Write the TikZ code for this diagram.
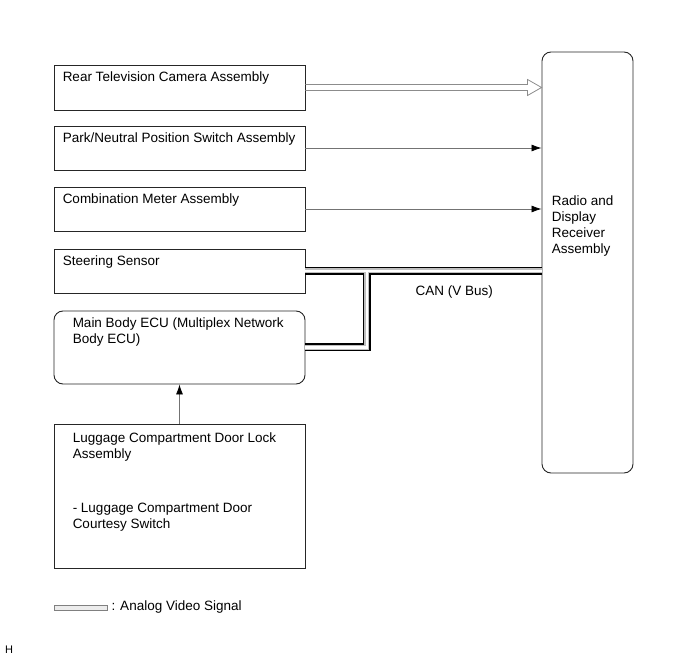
\documentclass[tikz,border=0pt]{standalone}
\usepackage{fontspec}
\setmainfont{Liberation Sans}
\usetikzlibrary{calc,positioning,arrows.meta}

\begin{document}
\begin{tikzpicture}[x=1pt, y=-1pt, font=\fontsize{13.5}{16}\selectfont,
    unit/.style={rectangle, draw=black!85, line width=0.9pt, minimum width=251pt, inner sep=0pt},
    ecu/.style={unit, rounded corners=9pt},
    unittext/.style={anchor=north west, inner sep=0pt, align=left},
    sig/.style={draw=black!55, line width=0.8pt, -{Latex[length=10pt, width=7pt, color=black]}},
    video/.style={draw=black!45, line width=0.8pt},
    canouter/.style={draw=black, line width=8pt},
    canmid/.style={draw=gray!50, line width=5pt},
    cancore/.style={draw=white, line width=2.4pt}]
    \useasboundingbox (0,0) rectangle (691,660);

    \node (rtv) [unit, minimum height=45pt] at (179.5,87.5) {};
    \node (park) [unit, minimum height=44pt] at (179.5,148) {};
    \node (meter) [unit, minimum height=44pt] at (179.5,209) {};
    \node (steer) [unit, minimum height=44pt] at (179.5,271) {};
    \node (mainbody) [ecu, minimum height=73pt] at (179.5,347.5) {};
    \node (luggage) [unit, minimum height=144pt] at (179.5,496) {};
    \node (radio) [ecu, minimum width=91pt, minimum height=421pt] at (587.5,262.5) {};

    \node (rtvtext) [unittext] at ([shift={(9,7)}]rtv.north west) {Rear Television Camera Assembly};
    \node (parktext) [unittext] at ([shift={(9,7)}]park.north west) {Park/Neutral Position Switch Assembly};
    \node (metertext) [unittext] at ([shift={(9,7)}]meter.north west) {Combination Meter Assembly};
    \node (steertext) [unittext] at ([shift={(9,7)}]steer.north west) {Steering Sensor};
    \node (mainbodytext) [unittext] at ([shift={(19,7)}]mainbody.north west) {Main Body ECU (Multiplex Network\\Body ECU)};
    \node (luggagetext) [unittext] at ([shift={(19,9)}]luggage.north west) {Luggage Compartment Door Lock\\Assembly\\[38pt]- Luggage Compartment Door\\Courtesy Switch};
    \node (radiotext) [unittext] at ([shift={(10,144)}]radio.north west) {Radio and\\Display\\Receiver\\Assembly};

    % analog video signal
    \draw[video] ($(rtv.east)+(0,-3)$) -- ($(rtv.east -| radio.west)+(-14,-3)$) -- ++(0,-5)
        -- (rtv.east -| radio.west) -- ++(-14,8) -- ++(0,-5) -- ($(rtv.east)+(0,3)$);

    \draw[sig] (park.east) -- (park.east -| radio.west);
    \draw[sig] (meter.east) -- (meter.east -| radio.west);
    \draw[sig] (luggage.north) -- (mainbody.south);

    % CAN bus
    \coordinate (tap) at ($(steer.east)!0.26!(steer.east -| radio.west)$);
    \foreach \layer in {canouter, canmid, cancore} {
        \draw[\layer] (steer.east) -- (steer.east -| radio.west);
        \draw[\layer] (tap) -- (tap |- mainbody.east) -- (mainbody.east);
    }
    \node (canlabel) at ($(tap)!0.5!(steer.east -| radio.west)+(0,21)$) {CAN (V Bus)};

    % legend
    \node (legendsym) [rectangle, draw=black!50, fill=gray!15, line width=0.6pt, minimum width=53pt, minimum height=5pt, inner sep=0pt] at (80.5,607.5) {};
    \node (legendtext) [right=4pt of legendsym, inner sep=0pt] {: Analog Video Signal};

    \node (figid) [anchor=west, inner sep=0pt, font=\fontsize{11}{12}\selectfont] at (5,650) {H};
\end{tikzpicture}
\end{document}
